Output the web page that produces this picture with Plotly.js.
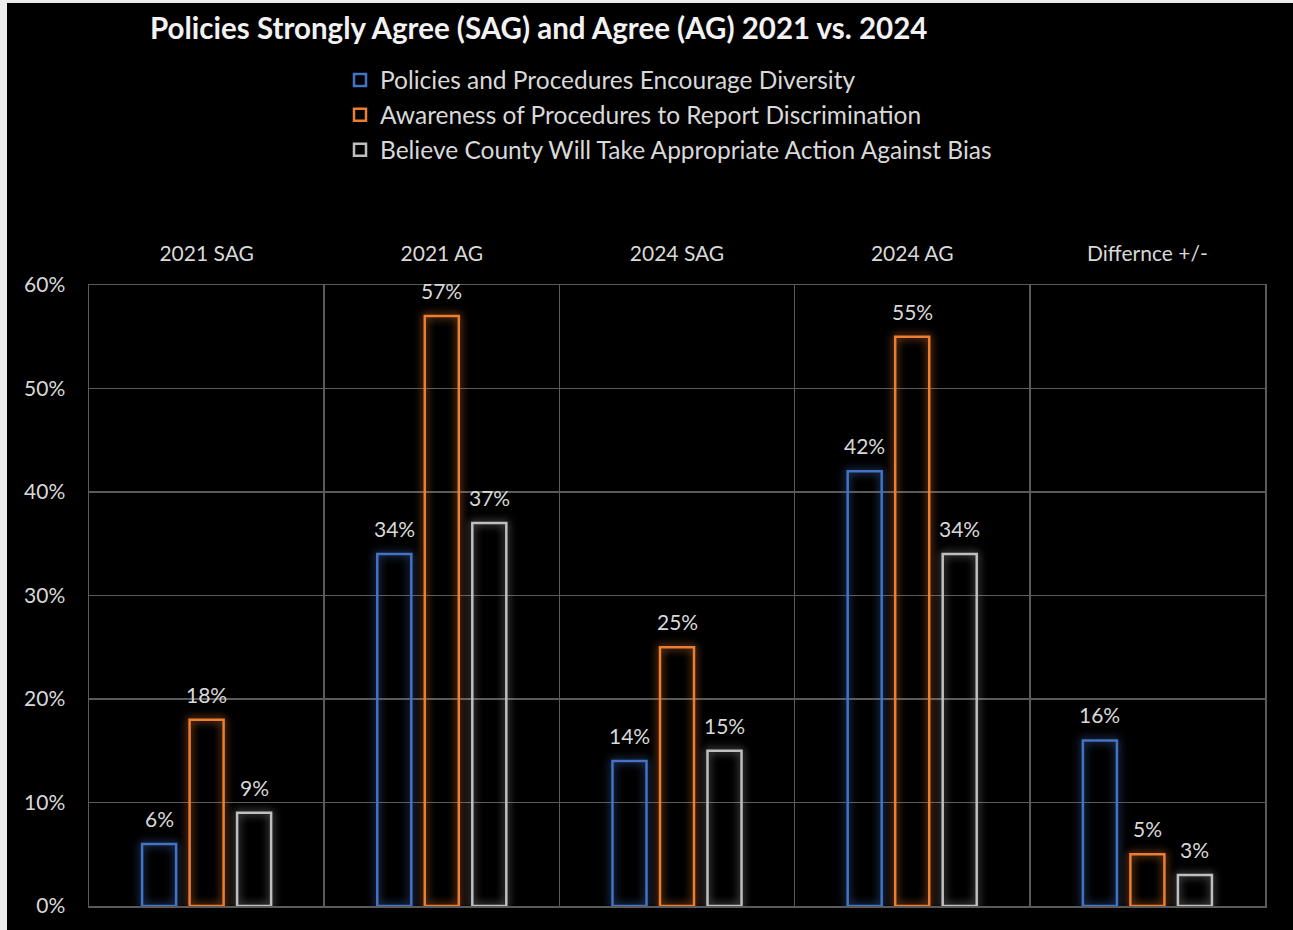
<!DOCTYPE html>
<html>
<head>
<meta charset="utf-8">
<script src="https://cdn.plot.ly/plotly-3.0.1.min.js"></script>
<style>
  html, body { margin: 0; padding: 0; background: #ececec; width: 1293px; height: 930px; overflow: hidden; }
  #chart { position: absolute; left: 7px; top: 3px; width: 1286px; height: 927px; }
  .trace.bars:nth-of-type(1) path { filter: drop-shadow(0 0 4px rgba(68,114,196,0.95)); }
  .trace.bars:nth-of-type(2) path { filter: drop-shadow(0 0 4px rgba(237,125,49,0.95)); }
  .trace.bars:nth-of-type(3) path { filter: drop-shadow(0 0 4px rgba(200,200,200,0.75)); }
</style>
</head>
<body>
<div id="chart"></div>
<script>
const categories = ["2021 SAG", "2021 AG", "2024 SAG", "2024 AG", "Differnce +/-"];
const seriesNames = [
  "Policies and Procedures Encourage Diversity",
  "Awareness of Procedures to Report Discrimination",
  "Believe County Will Take Appropriate Action Against Bias"
];
const policiesDiversity = [0.06, 0.34, 0.14, 0.42, 0.16];
const awarenessReport = [0.18, 0.57, 0.25, 0.55, 0.05];
const believeAction = [0.09, 0.37, 0.15, 0.34, 0.03];
const yTickVals = [0, 0.1, 0.2, 0.3, 0.4, 0.5, 0.6];

const seriesValues = [policiesDiversity, awarenessReport, believeAction];
const seriesColors = ["#4472c4", "#ed7d31", "#bfbfbf"];

const W = 1286, H = 927;
const margin = { l: 82, r: 28, t: 282, b: 24 };
const bargap = 0.394, bargroupgap = 0.284;
const plotW = W - margin.l - margin.r;
const plotH = H - margin.t - margin.b;
const slotW = plotW / categories.length * (1 - bargap) / seriesValues.length;

const traces = seriesValues.map((vals, i) => ({
  type: "bar",
  name: seriesNames[i],
  x: categories,
  y: vals,
  marker: { color: "rgba(0,0,0,0)", line: { color: seriesColors[i], width: 2.5 } },
  hoverinfo: "x+y+name"
}));

const annotations = [];
seriesValues.forEach((vals, i) => {
  vals.forEach((v, j) => {
    annotations.push({
      x: categories[j], y: v, xref: "x", yref: "y",
      text: Math.round(v * 100) + "%",
      showarrow: false, yanchor: "bottom",
      xshift: (i - 1) * slotW, yshift: 11,
      font: { family: "Lato, sans-serif", size: 21, color: "#d9d9d9" }
    });
  });
});

const layout = {
  width: W, height: H,
  margin: margin,
  paper_bgcolor: "#000000",
  plot_bgcolor: "#000000",
  barmode: "group",
  bargap: bargap,
  bargroupgap: bargroupgap,
  font: { family: "Lato, sans-serif", color: "#d9d9d9" },
  title: {
    text: "<b>Policies Strongly Agree (SAG) and Agree (AG) 2021 vs. 2024</b>",
    font: { family: "Lato, sans-serif", size: 29.5, color: "#f2f2f2" },
    xref: "container", yref: "container",
    x: 143 / W, xanchor: "left",
    y: 1 - 26 / H, yanchor: "middle"
  },
  showlegend: true,
  legend: {
    xref: "paper", yref: "paper",
    x: (333 - margin.l) / plotW, xanchor: "left",
    y: (H - margin.b - 54.5) / plotH, yanchor: "top",
    bgcolor: "rgba(0,0,0,0)",
    font: { family: "Lato, sans-serif", size: 24.5, color: "#d9d9d9" },
    traceorder: "normal"
  },
  xaxis: {
    type: "category",
    side: "top",
    tickson: "boundaries",
    showgrid: true,
    gridcolor: "#5a5a5a",
    gridwidth: 1.5,
    ticks: "",
    tickangle: 0,
    automargin: false,
    showline: true, mirror: true,
    linecolor: "#5a5a5a", linewidth: 1.5,
    tickfont: { family: "Lato, sans-serif", size: 21, color: "#d9d9d9" },
    ticklabelstandoff: 14,
    fixedrange: true
  },
  yaxis: {
    range: [0, 0.6],
    tickvals: yTickVals,
    tickformat: ".0%",
    showgrid: true,
    gridcolor: "#5a5a5a",
    gridwidth: 1.5,
    zeroline: false,
    automargin: false,
    showline: true, mirror: true,
    linecolor: "#5a5a5a", linewidth: 1.5,
    ticks: "",
    tickfont: { family: "Lato, sans-serif", size: 21, color: "#d9d9d9" },
    ticklabelstandoff: 18,
    fixedrange: true
  },
  annotations: annotations
};

Plotly.newPlot("chart", traces, layout, { displayModeBar: false, staticPlot: true });
</script>
</body>
</html>
